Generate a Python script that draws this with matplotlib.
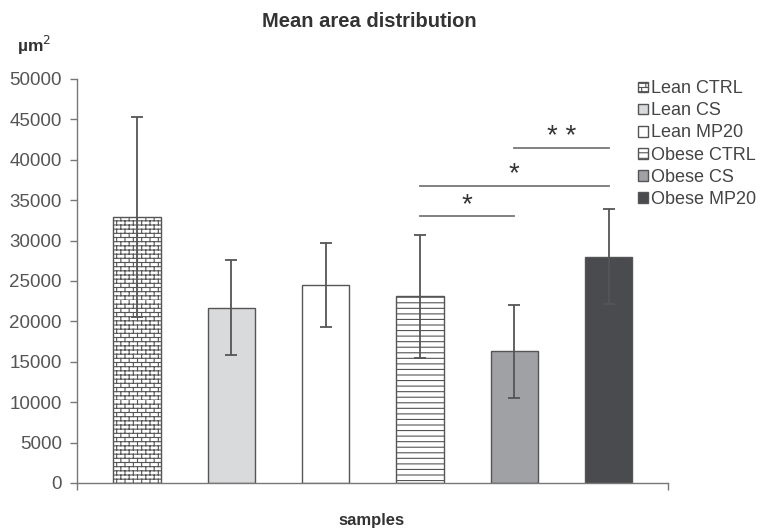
import warnings
import numpy as np
import matplotlib
matplotlib.use("Agg")
import matplotlib.pyplot as plt
import matplotlib.hatch as mhatch
from matplotlib.path import Path

warnings.filterwarnings("ignore")

# ---------------- data ----------------
categories = ["Lean CTRL", "Lean CS", "Lean MP20", "Obese CTRL", "Obese CS", "Obese MP20"]
means = [32900, 21700, 24500, 23100, 16300, 28000]
errors = [12400, 5900, 5200, 7600, 5750, 5900]
sig_pairs = [(3, 4), (3, 5), (4, 5)]
sig_levels = [33000, 36800, 41500]
sig_labels = ["*", "*", "* *"]
yticks = [0, 5000, 10000, 15000, 20000, 25000, 30000, 35000, 40000, 45000, 50000]

# ---------------- custom brick hatch ----------------
class BrickHatch(mhatch.HatchPatternBase):
    def __init__(self, hatch, density):
        n = int(hatch.count('b') * density)
        n -= n % 2
        self.n = n
        self.m = max(n // 2, 1) if n else 0
        self.num_vertices = (n * 2 + n * self.m * 2) if n else 0

    def set_vertices_and_codes(self, vertices, codes):
        n, m = self.n, self.m
        h = 1.0 / n
        w = 1.0 / m
        k = 0
        for i in range(n):
            y0 = i * h
            vertices[k] = (0, y0); codes[k] = Path.MOVETO; k += 1
            vertices[k] = (1, y0); codes[k] = Path.LINETO; k += 1
            off = w / 2 if i % 2 else 0.0
            for j in range(m):
                xx = j * w + off
                vertices[k] = (xx, y0); codes[k] = Path.MOVETO; k += 1
                vertices[k] = (xx, y0 + h); codes[k] = Path.LINETO; k += 1

mhatch._hatch_types.append(BrickHatch)

plt.rcParams['font.family'] = ['Liberation Sans', 'DejaVu Sans']
plt.rcParams['hatch.linewidth'] = 0.8

fills = ["white", "#d9dadc", "white", "white", "#a0a1a5", "#4a4b4f"]
hatches = ["bbbb", None, None, "---", None, None]
edge = "#555555"

fig = plt.figure(figsize=(7.65, 5.3), dpi=100)
ax = fig.add_axes([0.1007, 0.0887, 0.7725, 0.7623])

x = np.arange(len(categories))
for i in range(len(categories)):
    ax.bar(x[i], means[i], width=0.5, color=fills[i], edgecolor=edge,
           linewidth=1.0, hatch=hatches[i], label=categories[i], zorder=2)
ax.errorbar(x, means, yerr=errors, fmt='none', ecolor="#555555",
            elinewidth=1.3, capsize=4, capthick=1.3, zorder=3)

# significance lines
for (a, b), lvl, lab in zip(sig_pairs, sig_levels, sig_labels):
    ax.plot([x[a], x[b]], [lvl, lvl], color="#777777", lw=1.3, zorder=3)
    ax.text((x[a] + x[b]) / 2, lvl - 250, lab, ha='center', va='bottom',
            fontsize=20, color="#333333")

ax.set_xlim(-0.636, 5.63)
ax.set_ylim(0, 50000)
ax.set_yticks(yticks)
ax.set_yticklabels([str(t) for t in yticks])
ax.set_xticks([-0.636, 5.63])
ax.set_xticklabels(["", ""])
ax.tick_params(axis='y', direction='out', length=5, width=1, color="#777777",
               labelcolor="#555555", labelsize=13.5, pad=6)
ax.tick_params(axis='x', direction='out', length=5, width=1, color="#777777")
for s in ['top', 'right']:
    ax.spines[s].set_visible(False)
for s in ['left', 'bottom']:
    ax.spines[s].set_color("#777777")
    ax.spines[s].set_linewidth(1.0)
ax.spines['left'].set_bounds(0, 50000)

fig.text(0.483, 0.960, "Mean area distribution", ha='center', va='center',
         fontsize=14.5, fontweight='bold', color="#333333")
fig.text(0.486, 0.018, "samples", ha='center', va='center',
         fontsize=12, fontweight='bold', color="#333333")
fig.text(0.045, 0.915, "µm$^2$", ha='center', va='center',
         fontsize=12.5, fontweight='bold', color="#333333")

leg = ax.legend(loc='upper left', bbox_to_anchor=(0.825, 0.862), bbox_transform=fig.transFigure,
                frameon=False, fontsize=13, handlelength=0.55, handleheight=0.55,
                handletextpad=0.15, labelspacing=0.28, borderaxespad=0)
for t in leg.get_texts():
    t.set_color("#444444")

fig.savefig("out.png", dpi=100)
